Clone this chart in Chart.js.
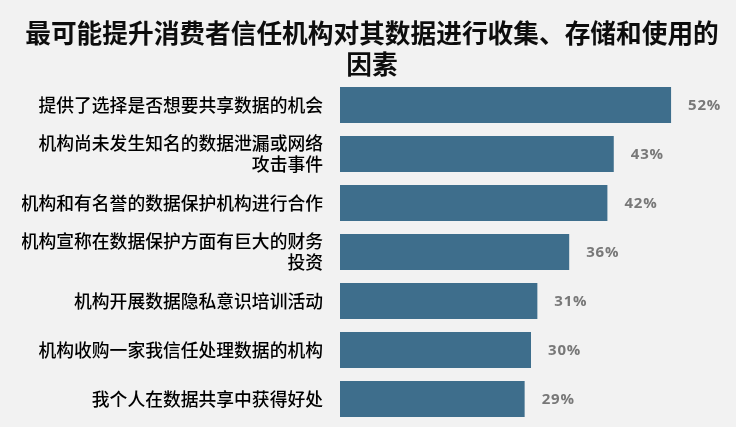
<!DOCTYPE html>
<html>
<head>
<meta charset="utf-8">
<script src="https://cdn.jsdelivr.net/npm/chart.js@4/dist/chart.umd.min.js"></script>
<style>
  html, body { margin: 0; padding: 0; background: #f2f2f2; }
  #wrap { width: 736px; height: 427px; position: relative; }
</style>
</head>
<body>
<div id="wrap"><canvas id="c"></canvas></div>
<script>
const titleLines = ["最可能提升消费者信任机构对其数据进行收集、存储和使用的", "因素"];
const categories = [
  "提供了选择是否想要共享数据的机会",
  ["机构尚未发生知名的数据泄漏或网络", "攻击事件"],
  "机构和有名誉的数据保护机构进行合作",
  ["机构宣称在数据保护方面有巨大的财务", "投资"],
  "机构开展数据隐私意识培训活动",
  "机构收购一家我信任处理数据的机构",
  "我个人在数据共享中获得好处"
];
const values = [52, 43, 42, 36, 31, 30, 29];

const valueLabels = {
  id: 'valueLabels',
  afterDatasetsDraw(chart) {
    const ctx = chart.ctx;
    const meta = chart.getDatasetMeta(0);
    ctx.save();
    ctx.letterSpacing = '0.8px';
    ctx.font = 'bold 15px "Open Sans", sans-serif';
    ctx.fillStyle = '#787878';
    ctx.textAlign = 'left';
    ctx.textBaseline = 'middle';
    meta.data.forEach((el, i) => {
      ctx.fillText(values[i] + '%', el.x + 17, el.y + 1);
    });
    ctx.restore();
  }
};

new Chart(document.getElementById('c'), {
  type: 'bar',
  data: {
    labels: categories,
    datasets: [{
      data: values,
      backgroundColor: '#3e6e8c',
      borderWidth: 0,
      barPercentage: 0.735,
      categoryPercentage: 1.0
    }]
  },
  options: {
    indexAxis: 'y',
    responsive: true,
    maintainAspectRatio: false,
    animation: false,
    layout: { padding: { left: 22, right: 14, top: 0, bottom: 3.5 } },
    plugins: {
      legend: { display: false },
      tooltip: { enabled: false },
      title: {
        display: true,
        text: titleLines,
        color: '#0d0d0d',
        font: { family: '"Noto Sans CJK SC", sans-serif', size: 25.7, weight: 'bold', lineHeight: 1.2 },
        padding: { top: 18, bottom: 0.8 }
      }
    },
    scales: {
      x: {
        display: false,
        min: 0,
        max: 60
      },
      y: {
        grid: { display: false, drawTicks: false },
        border: { display: false },
        ticks: {
          color: '#000000',
          padding: 17,
          font: { family: '"Noto Sans CJK SC", sans-serif', size: 17.8, weight: 500, lineHeight: 1.17 }
        },
        afterFit(scale) {
          scale.width = 318;
          scale.paddingTop = 0;
          scale.paddingBottom = 0;
        }
      }
    }
  },
  plugins: [valueLabels]
});
</script>
</body>
</html>
